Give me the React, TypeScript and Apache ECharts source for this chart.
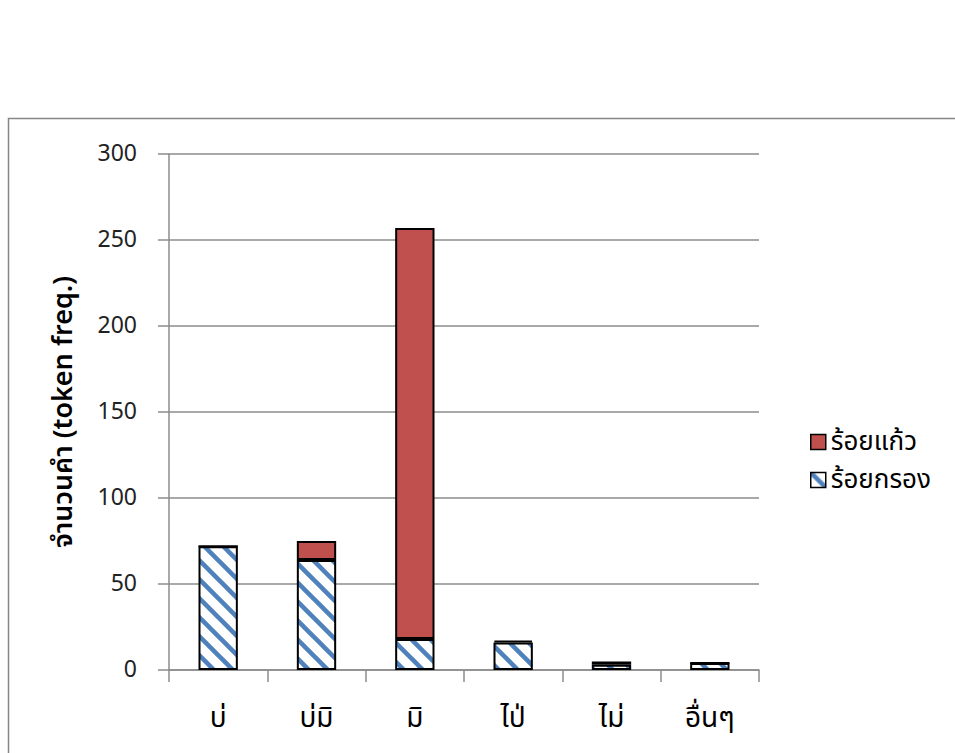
import React, { useEffect, useRef } from "react";
import * as echarts from "echarts";

const categories = ["บ่", "บ่มิ", "มิ", "ไป่", "ไม่", "อื่นๆ"];
const poetryValues = [72, 64, 18, 16, 3, 4]; // ร้อยกรอง
const proseValues = [0, 11, 239, 1, 2, 0]; // ร้อยแก้ว
const yTicks = { min: 0, max: 300, interval: 50 };
const seriesNames = { prose: "ร้อยแก้ว", poetry: "ร้อยกรอง" };
const yAxisTitle = "จำนวนคำ (token freq.)";

const FONT = "'Noto Sans Thai', 'Leelawadee UI', Tahoma, 'Noto Sans', 'DejaVu Sans', sans-serif";
const GRAY = "#8C8C8C";
const TILE = 19;

function makeStripe(): HTMLCanvasElement {
  const s = TILE;
  const c = document.createElement("canvas");
  c.width = s;
  c.height = s;
  const ctx = c.getContext("2d")!;
  ctx.fillStyle = "#ffffff";
  ctx.fillRect(0, 0, s, s);
  ctx.strokeStyle = "#4F81BD";
  ctx.lineWidth = 4.5;
  for (const off of [-s, 0, s]) {
    ctx.beginPath();
    ctx.moveTo(off - 3, -3);
    ctx.lineTo(off + s + 3, s + 3);
    ctx.stroke();
  }
  return c;
}

export default function App() {
  const ref = useRef<HTMLDivElement>(null);
  useEffect(() => {
    if (!ref.current) return;
    const chart = echarts.init(ref.current, undefined, { renderer: "svg" });
    const stripe = makeStripe();
    const pattern: any = { image: stripe, repeat: "repeat", imageWidth: TILE, imageHeight: TILE };
    chart.setOption({
      animation: false,
      backgroundColor: "#ffffff",
      textStyle: { fontFamily: FONT },
      graphic: [
        {
          type: "rect",
          shape: { x: 8.5, y: 118.5, width: 1000, height: 700 },
          style: { fill: "none", stroke: "#868686", lineWidth: 1.5 },
          silent: true,
          z: -10,
        },
      ],
      grid: { left: 169, right: 196, top: 154, bottom: 83 },
      legend: {
        orient: "vertical",
        left: 805,
        top: 424,
        icon: "rect",
        itemWidth: 15,
        itemHeight: 15,
        itemGap: 12,
        data: [seriesNames.prose, seriesNames.poetry],
        textStyle: { fontSize: 26, lineHeight: 26, color: "#000", fontFamily: FONT },
        itemStyle: { borderColor: "#000", borderWidth: 1.5 },
      },
      xAxis: {
        type: "category",
        data: categories,
        boundaryGap: true,
        axisLine: { lineStyle: { color: GRAY, width: 1.5 } },
        axisTick: { show: true, length: 12, interval: 0, lineStyle: { color: GRAY, width: 1.5 } },
        axisLabel: { fontSize: 28, color: "#000", margin: 34, interval: 0, fontFamily: FONT },
      },
      yAxis: {
        type: "value",
        min: yTicks.min,
        max: yTicks.max,
        interval: yTicks.interval,
        name: yAxisTitle,
        nameLocation: "middle",
        nameRotate: 90,
        nameGap: 92,
        nameTextStyle: { fontSize: 27, fontWeight: 600, color: "#000", fontFamily: FONT },
        axisLine: { show: true, lineStyle: { color: GRAY, width: 1.5 } },
        axisTick: { show: true, length: 11, lineStyle: { color: GRAY, width: 1.5 } },
        axisLabel: { fontSize: 23, color: "#222", margin: 32, fontFamily: FONT },
        splitLine: { show: true, lineStyle: { color: GRAY, width: 1.5 } },
      },
      series: [
        {
          name: seriesNames.poetry,
          type: "bar",
          stack: "total",
          barWidth: "40%",
          data: poetryValues,
          itemStyle: { color: pattern, borderColor: "#000", borderWidth: 2 },
        },
        {
          name: seriesNames.prose,
          type: "bar",
          stack: "total",
          barWidth: "40%",
          data: proseValues,
          itemStyle: { color: "#C0504D", borderColor: "#000", borderWidth: 2 },
        },
      ],
    });
    return () => chart.dispose();
  }, []);
  return (
    <div
      ref={ref}
      style={{ position: "absolute", left: 0, top: 0, width: 955, height: 753 }}
    />
  );
}
